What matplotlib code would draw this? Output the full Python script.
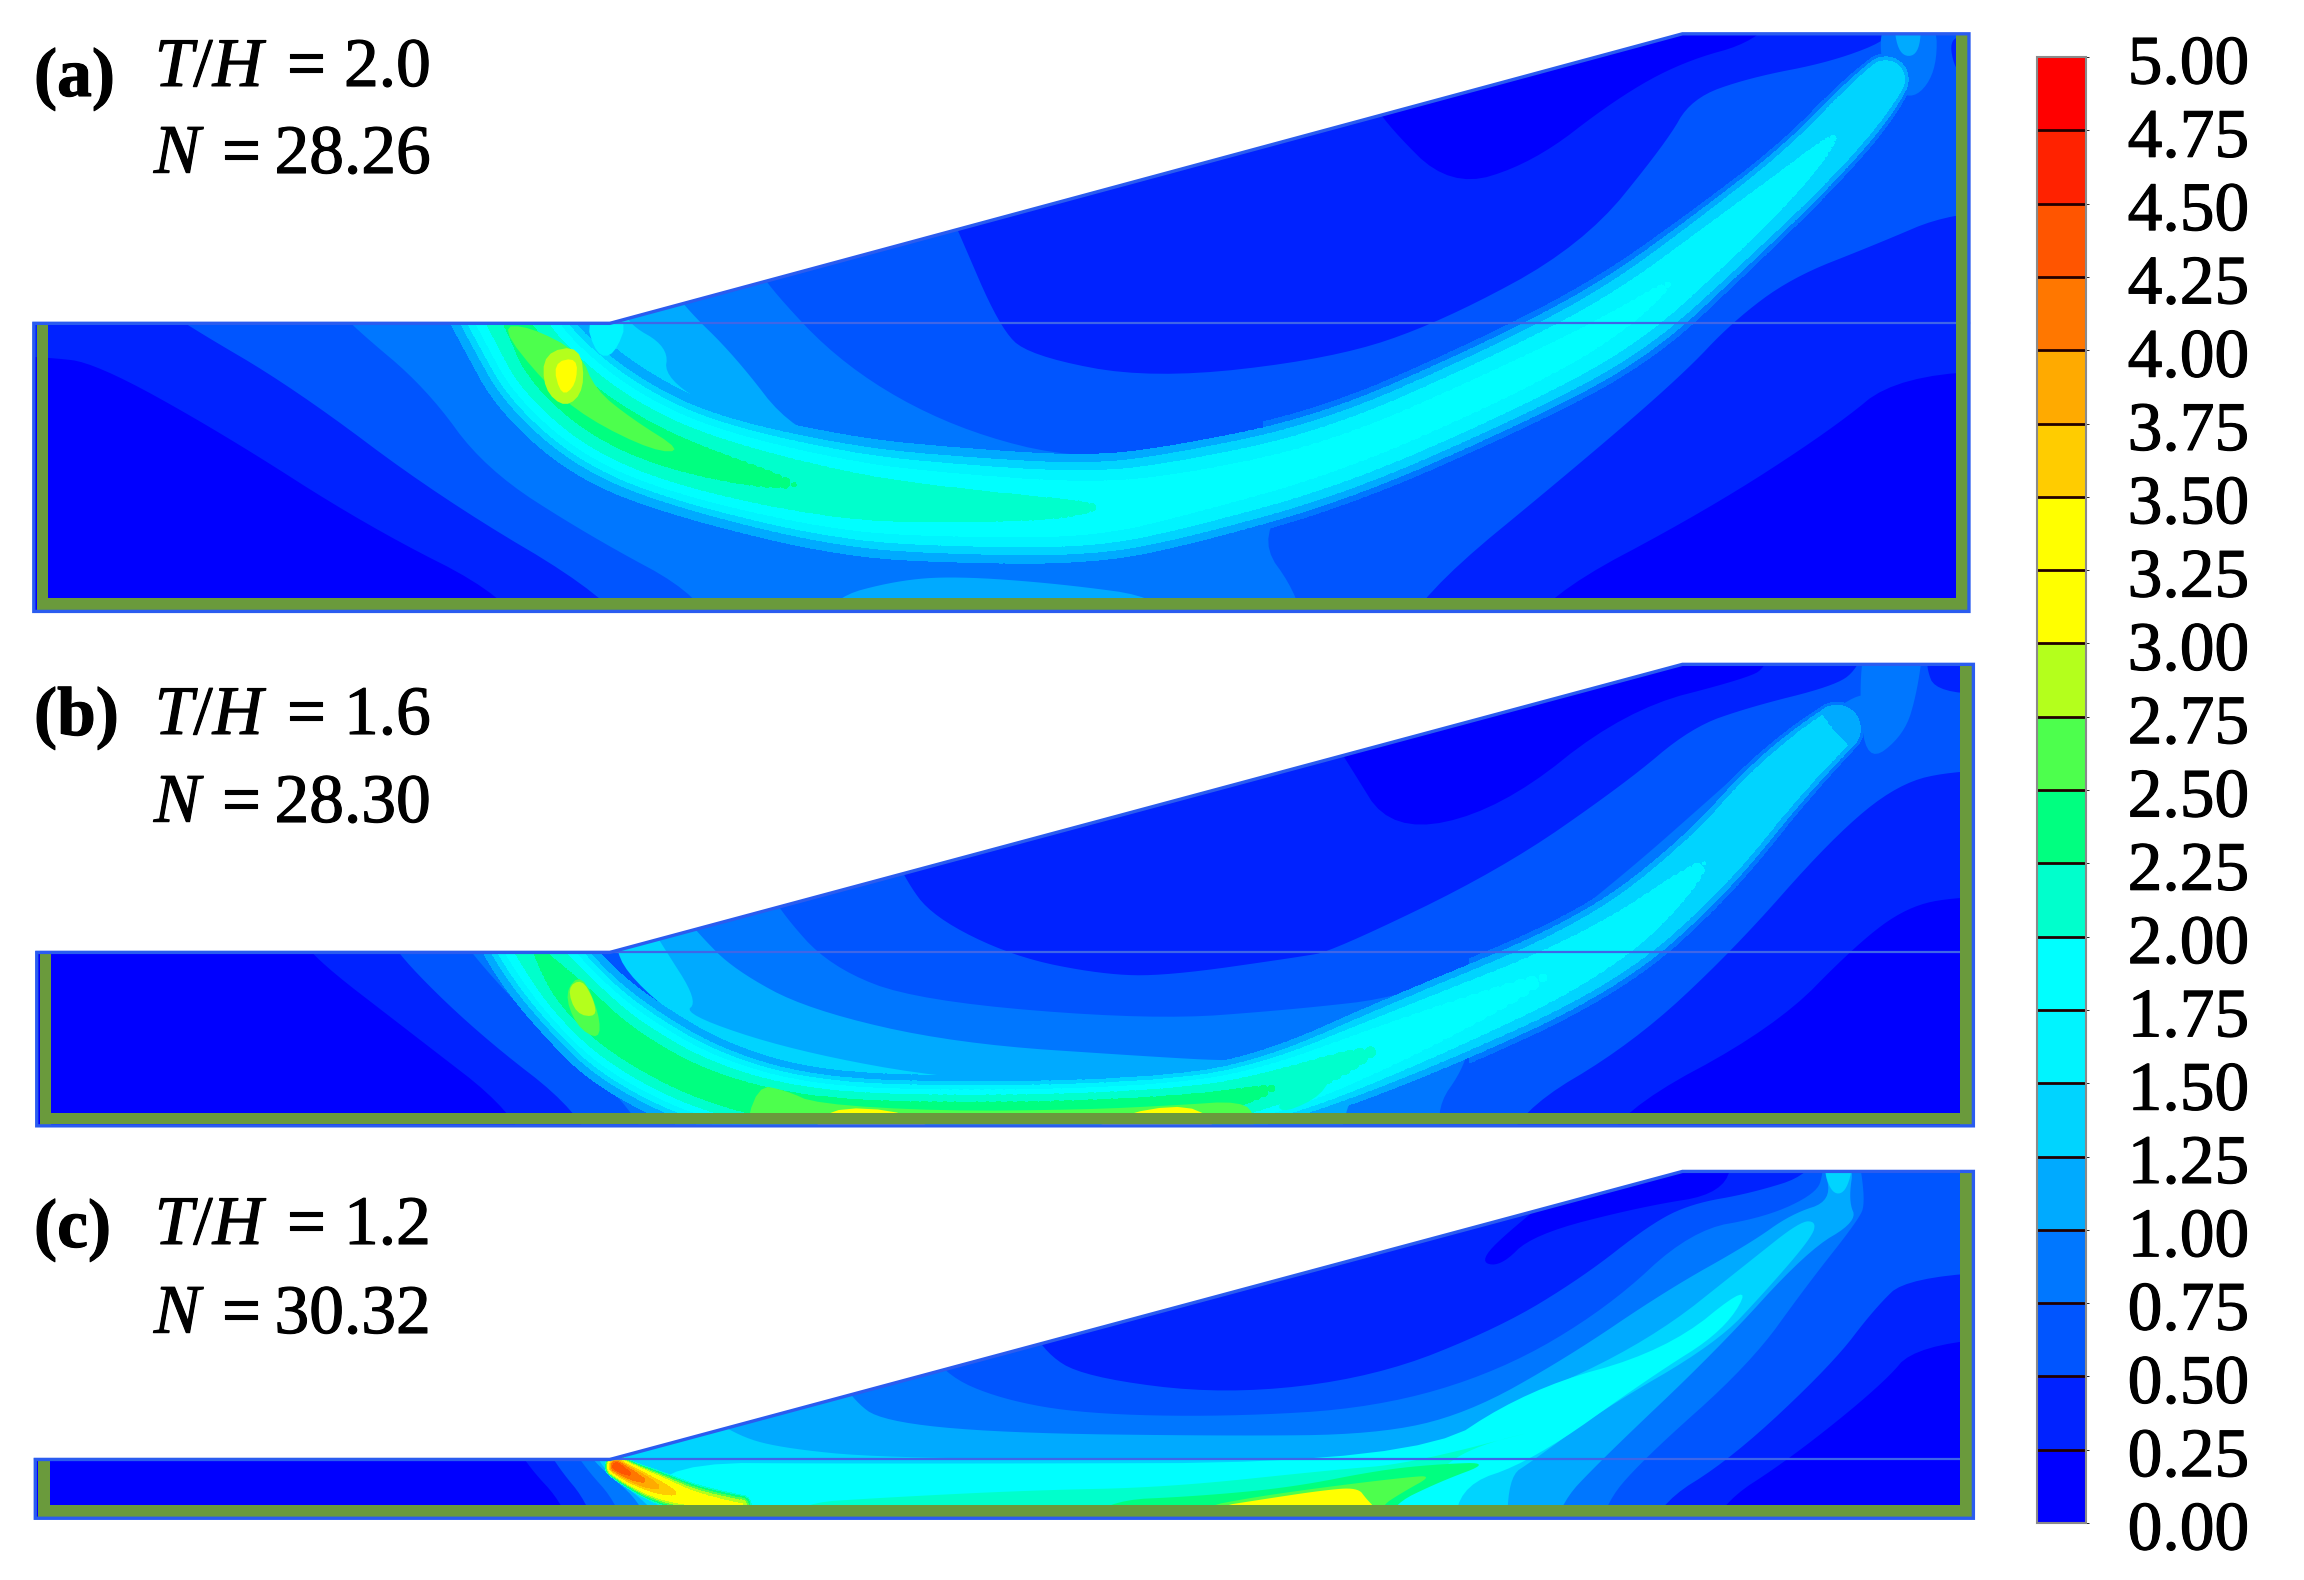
import numpy as np
import matplotlib
matplotlib.use('Agg')
import matplotlib.pyplot as plt
import matplotlib.patheffects as pe
from matplotlib.colors import ListedColormap, BoundaryNorm
from matplotlib.cm import ScalarMappable
from matplotlib.patches import Polygon, Rectangle

plt.rcParams['font.family'] = ['Liberation Serif', 'DejaVu Serif']
plt.rcParams['mathtext.fontset'] = 'custom'
plt.rcParams['mathtext.it'] = 'Liberation Serif:italic'
plt.rcParams['mathtext.rm'] = 'Liberation Serif'

# colour scale, low to high
levels = np.arange(0, 5.25, 0.25)
tick_labels = ['%.2f' % v for v in levels]
bin_colors = ['#0000ff', '#0022ff', '#0055ff', '#0077ff', '#00aaff', '#00d4ff', '#00f4ff', '#00ffff',
              '#00ffcc', '#00ff80', '#4dff4d', '#b4ff1c', '#ffff00', '#ffff00', '#ffcc00', '#ffaa00',
              '#ff7700', '#ff5500', '#ff2200', '#ff0000']

# panel text
panel_tags = ['(a)', '(b)', '(c)']
t_over_h = ['2.0', '1.6', '1.2']
factor_n = ['28.26', '28.30', '30.32']

# digitised outline, in pixels of the 1568x1075 picture: left, right, toe level, crest level, base
a_box = (23, 1340, 220, 23, 416)
b_box = (25, 1343, 648, 452, 766)
c_box = (24, 1343, 993, 797, 1033)
toe_px = 415
crest_px = 1145
slope_height_px = 197.0

# contour patches as (value, outline), painted in this order
a_base = 0.6
a_regions = [
    (0.4, [(-40, 205), (105, 205), (125, 220), (200, 264), (300, 339), (415, 407), (440, 450), (-40, 450)]),
    (0.1, [(-40, 240), (32, 243), (65, 247), (150, 294), (250, 358), (347, 407), (365, 450), (-40, 450)]),
    (0.9, [(225, 205), (240, 222), (290, 264), (330, 319), (400, 364), (480, 407), (490, 450), (890, 450), (885, 407),
           (854, 364), (900, 320), (800, 340), (650, 350), (520, 330), (430, 280), (390, 220)]),
    (1.1, [(565, 407), (610, 395), (650, 392), (720, 397), (794, 407), (800, 440), (555, 440)]),
    (0.4, [(1400, 144), (1329, 144), (1275, 167), (1219, 189), (1179, 219), (1145, 255), (1077, 314), (964, 407),
           (950, 450), (1400, 450)]),
    (0.1, [(1400, 251), (1292, 255), (1247, 292), (1162, 347), (1049, 407), (1030, 450), (1400, 450)]),
    (0.9, [(510, 170), (520, 192), (575, 250), (650, 292), (738, 314), (851, 303), (900, 300), (700, 340),
           (520, 320), (430, 260), (405, 170)]),
    (1.1, [(450, 185), (465, 208), (500, 242), (540, 294), (600, 311), (700, 340), (520, 320), (430, 260), (405, 190)]),
    (1.4, [(425, 200), (425, 219), (455, 236), (452, 258), (500, 286), (470, 300), (420, 260), (405, 200)]),
    (0.4, [(640, 130), (652, 157), (680, 222), (700, 242), (784, 258), (907, 244), (981, 219), (1077, 167), (1134, 97),
           (1151, 67), (1190, 53), (1247, 42), (1290, 25), (1300, 0), (640, 0)]),
    (0.1, [(930, 60), (941, 82), (987, 128), (1043, 111), (1100, 67), (1145, 42), (1196, 28), (1215, 0), (930, 0)]),
    (0.9, [(1280, 10), (1318, 10), (1318, 50), (1300, 70), (1280, 50)]),
    (1.1, [(1288, 10), (1308, 10), (1306, 38), (1292, 38)]),
    (0.4, [(1326, 25), (1345, 25), (1345, 55), (1331, 50)]),
]
a_spots = [
    (2.6, [(340, 222), (360, 222), (395, 240), (405, 265), (430, 285), (465, 307), (445, 307), (400, 285), (370, 260)]),
    (2.9, [(370, 240), (395, 235), (398, 265), (385, 278), (370, 265)]),
    (3.1, [(376, 247), (393, 243), (392, 262), (382, 270)]),
    (1.6, [(398, 216), (428, 216), (418, 242), (406, 242)]),
]
a_band_x = [335, 352, 372, 415, 475, 575, 650, 740, 800, 907, 1021, 1104, 1170, 1228, 1270, 1295]
a_band_y = [190, 222, 253, 289, 315, 338, 344, 347, 338, 312, 262, 219, 165, 115, 70, 40]
a_band_w = [30, 30, 32, 33, 30, 31, 30, 28, 26, 23, 23, 23, 19, 16, 15, 9]
a_band_peak = [2.3, 2.3, 2.42, 2.42, 2.35, 2.2, 2.1, 2.02, 1.9, 1.85, 1.85, 1.8, 1.7, 1.55, 1.45, 1.3]

b_base = 0.6
b_regions = [
    (0.4, [(-40, 630), (262, 630), (270, 649), (325, 703), (395, 757), (410, 800), (-40, 800)]),
    (0.1, [(-40, 630), (202, 630), (210, 649), (280, 703), (350, 757), (365, 800), (-40, 800)]),
    (0.9, [(310, 630), (320, 648), (360, 692), (435, 757), (445, 800), (990, 800), (975, 757), (998, 724), (1000, 700),
           (800, 745), (520, 730), (420, 690), (370, 630)]),
    (1.1, [(325, 630), (350, 676), (390, 726), (480, 757), (485, 800), (905, 800), (916, 757), (919, 749), (900, 730),
           (520, 735), (420, 690), (380, 630)]),
    (0.9, [(515, 590), (530, 619), (565, 658), (625, 681), (784, 694), (879, 687), (958, 678), (1049, 640), (1111, 590),
           (1162, 545), (1208, 504), (1247, 483), (1270, 470), (1281, 481), (1225, 540), (1130, 640), (1000, 690),
           (860, 740), (700, 755), (520, 730), (430, 660), (415, 640), (470, 590)]),
    (1.1, [(455, 610), (475, 635), (500, 660), (550, 687), (650, 710), (784, 719), (840, 722), (900, 720), (860, 740),
           (700, 755), (520, 730), (430, 660), (420, 625)]),
    (1.4, [(440, 625), (450, 642), (475, 681), (465, 690), (540, 715), (650, 735), (784, 740), (834, 731), (850, 745),
           (700, 755), (520, 735), (430, 670), (415, 635)]),
    (0.4, [(600, 560), (615, 597), (635, 624), (690, 651), (750, 663), (794, 664), (885, 651), (907, 647), (1021, 592),
           (1106, 533), (1151, 495), (1191, 481), (1247, 467), (1264, 456), (1275, 425), (600, 425)]),
    (0.1, [(905, 500), (916, 517), (947, 567), (1021, 551), (1106, 483), (1191, 461), (1202, 453), (1212, 425),
           (905, 425)]),
    (0.9, [(1270, 430), (1310, 430), (1305, 470), (1296, 500), (1270, 520), (1265, 470)]),
    (0.4, [(1315, 430), (1380, 430), (1380, 472), (1318, 472), (1310, 452)]),
    (0.4, [(1400, 524), (1332, 524), (1292, 533), (1247, 570), (1179, 647), (1111, 710), (1032, 757), (1020, 800),
           (1400, 800)]),
    (0.1, [(1400, 610), (1332, 610), (1298, 617), (1264, 642), (1208, 699), (1100, 757), (1085, 800), (1400, 800)]),
]
b_spots = [
    (2.6, [(505, 780), (515, 738), (535, 742), (555, 751), (640, 756), (738, 755), (800, 752), (845, 749), (855, 760),
           (850, 780)]),
    (2.1, [(868, 752), (890, 735), (907, 728), (900, 745), (875, 757)]),
    (3.1, [(552, 780), (560, 753), (620, 756), (645, 780)]),
    (3.1, [(720, 780), (770, 755), (820, 752), (830, 780)]),
    (2.6, [(384, 675), (396, 662), (408, 690), (408, 708), (392, 698)]),
    (2.9, [(386, 672), (396, 666), (404, 680), (406, 692), (392, 690)]),
]
b_band_x = [350, 368, 392, 425, 480, 550, 650, 780, 860, 960, 1087, 1160, 1215, 1281]
b_band_y = [620, 651, 680, 710, 740, 757, 760, 757, 745, 705, 650, 590, 525, 470]
b_band_w = [25, 25, 25, 27, 25, 22, 21, 21, 20, 23, 21, 18, 16, 9]
b_band_peak = [2.25, 2.25, 2.45, 2.4, 2.4, 2.45, 2.45, 2.45, 2.3, 1.9, 1.7, 1.5, 1.35, 1.15]

c_base = 0.1
c_regions = [
    (0.4, [(345, 970), (357, 995), (385, 1025), (395, 1065), (1160, 1065), (1168, 1025), (1219, 992), (1281, 942),
           (1304, 915), (1400, 907), (1400, 770), (345, 770)]),
    (0.6, [(365, 970), (377, 995), (402, 1025), (410, 1065), (1120, 1065), (1126, 1025), (1179, 992), (1247, 928),
           (1276, 890), (1298, 869), (1400, 863), (1400, 770), (1240, 770), (1233, 799), (1191, 812), (1151, 819),
           (1123, 833), (1077, 869), (1021, 903), (936, 937), (834, 949), (738, 937), (709, 919), (690, 880), (380, 880)]),
    (0.9, [(385, 975), (395, 995), (422, 1025), (430, 1065), (1085, 1065), (1091, 1025), (1117, 994), (1191, 928),
           (1230, 874), (1264, 831), (1270, 818), (1262, 770), (1241, 770), (1241, 798), (1236, 812), (1202, 828),
           (1151, 837), (1094, 890), (1021, 933), (936, 958), (834, 964), (738, 962), (681, 952), (642, 935), (620, 900),
           (400, 900)]),
    (1.1, [(395, 980), (405, 996), (440, 1025), (445, 1065), (1055, 1065), (1060, 1025), (1089, 994), (1168, 919),
           (1230, 851), (1264, 831), (1258, 817), (1262, 790), (1240, 790), (1247, 817), (1219, 826), (1191, 846),
           (1134, 878), (1066, 924), (998, 962), (936, 976), (834, 977), (681, 975), (600, 967), (580, 952), (560, 920),
           (420, 920)]),
    (1.4, [(405, 985), (410, 1000), (450, 1030), (455, 1060), (1026, 1060), (1026, 1005), (1043, 994), (1089, 960),
           (1168, 914), (1202, 878), (1233, 842), (1236, 831), (1225, 831), (1191, 858), (1123, 912), (1032, 955),
           (964, 992), (784, 993), (600, 992), (530, 985), (500, 976), (470, 955), (425, 975)]),
    (1.9, [(430, 995), (600, 996), (964, 995), (1040, 945), (1134, 919), (1193, 871), (1174, 905), (1123, 937), (1043, 994),
           (990, 1012), (992, 1060), (470, 1060)]),
    (2.1, [(530, 1050), (540, 1023), (600, 1019), (700, 1014), (794, 1012), (908, 1000), (958, 996), (1055, 971),
           (1000, 985), (975, 1004), (940, 1025), (935, 1050)]),
    (2.4, [(730, 1050), (750, 1021), (815, 1018), (879, 1012), (940, 1000), (981, 996), (1015, 995), (980, 1008), (945, 1025),
           (945, 1050)]),
    (2.6, [(805, 1050), (815, 1026), (851, 1019), (900, 1012), (958, 1005), (975, 1004), (955, 1015), (938, 1026),
           (938, 1050)]),
    (3.1, [(815, 1050), (822, 1026), (860, 1020), (900, 1014), (924, 1012), (930, 1020), (936, 1026), (936, 1050)]),
    (0.1, [(1006, 858), (1021, 862), (1043, 840), (1117, 821), (1174, 812), (1180, 780), (1100, 780), (1032, 833)]),
    (1.4, [(1240, 790), (1262, 790), (1256, 812), (1246, 812)]),
]
c_spots = []
c_band_x = [412, 428, 450, 475, 530]
c_band_y = [993, 1003, 1013, 1021, 1027]
c_band_w = [7, 9, 12, 11, 6]
c_band_peak = [4.7, 4.3, 3.7, 3.2, 2.9]

cmap = ListedColormap(bin_colors)
norm = BoundaryNorm(levels, cmap.N)
frame_blue = '#2a5cf0'
wall_green = '#6a9a3c'


def chaikin(pts, closed=True, n=3):
    # corner cutting so the digitised outlines come out as smooth contours
    pts = np.asarray(pts, dtype=float)
    for _ in range(n):
        nxt = np.roll(pts, -1, axis=0) if closed else pts[1:]
        cur = pts if closed else pts[:-1]
        q = 0.75 * cur + 0.25 * nxt
        r = 0.25 * cur + 0.75 * nxt
        new = np.empty((2 * len(cur), pts.shape[1]))
        new[0::2] = q
        new[1::2] = r
        pts = new
    return pts


def band_field(X, Y, cx, cy, cw, cpeak):
    line = chaikin(np.column_stack([cx, cy, cw, cpeak]), closed=False, n=4)
    best = np.full(X.shape, np.inf)
    peak = np.zeros(X.shape)
    for x0, y0, w0, p0 in line:
        t = np.hypot(X - x0, Y - y0) / w0
        hit = t < best
        best[hit] = t[hit]
        peak[hit] = p0
    u = np.clip(best / 1.1, 0, 1)
    v = 1.25 + (peak - 1.25) * (1 - u ** 2)
    outer = best >= 1.1
    v[outer] = np.interp(best[outer], [1.1, 1.3, 1.5, 9], [1.25, 1.0, 0.7, 0.0])
    return np.minimum(v, peak)


def label(x, y, s, **kw):
    t = fig.text(x / 2304, 1 - y / 1580, s, fontsize=50, va='baseline', **kw)
    t.set_path_effects([pe.withStroke(linewidth=0.8, foreground='black')])
    return t


fig = plt.figure(figsize=(23.04, 15.8), dpi=100)
W, H = 1568.0, 1075.0

panels = [
    (a_box, a_base, a_regions, a_spots, a_band_x, a_band_y, a_band_w, a_band_peak, 1.0, 860),
    (b_box, b_base, b_regions, b_spots, b_band_x, b_band_y, b_band_w, b_band_peak, 1.0, 1000),
    (c_box, c_base, c_regions, c_spots, c_band_x, c_band_y, c_band_w, c_band_peak, 2.0, None),
]

for box, base_value, regions, spots, bx, by, bw, bp, floor, sheath_from in panels:
    left, right, mid, top, base = box
    ax = fig.add_axes([(left - 3) / W, 1 - (base + 3) / H, (right - left + 6) / W, (base - top + 6) / H])
    # model coordinates: x and y in units of the slope height, origin at the toe
    to_x = lambda px: (np.asarray(px, dtype=float) - toe_px) / slope_height_px
    to_y = lambda py: (mid - np.asarray(py, dtype=float)) / slope_height_px
    ax.set_xlim(to_x(left - 3), to_x(right + 3))
    ax.set_ylim(to_y(base + 3), to_y(top - 3))
    ax.axis('off')

    outline = np.array([[left, mid], [toe_px, mid], [crest_px, top], [right, top],
                        [right, base], [left, base]], dtype=float)
    outline_xy = np.column_stack([to_x(outline[:, 0]), to_y(outline[:, 1])])
    clip = Polygon(outline_xy, closed=True, transform=ax.transData, facecolor=cmap(norm(base_value)), edgecolor='none', zorder=1)
    ax.add_patch(clip)

    for value, pts in regions:
        p = chaikin(pts)
        patch = ax.fill(to_x(p[:, 0]), to_y(p[:, 1]), color=cmap(norm(value)), lw=0, zorder=2)[0]
        patch.set_clip_path(clip)

    gx = np.arange(left, right + 1, 1.0)
    gy = np.arange(top, base + 1, 1.0)
    PX, PY = np.meshgrid(gx, gy)
    V = band_field(PX, PY, bx, by, bw, bp)
    XX, YY = to_x(PX), to_y(PY)
    if sheath_from is not None:
        cs0 = ax.contourf(XX, YY, np.ma.masked_where(PX < sheath_from, V), levels=[0.75, 1.0], colors=[cmap(norm(0.9))], zorder=3)
        cs0.set_clip_path(clip)
    cs = ax.contourf(XX, YY, V, levels=levels[levels >= floor], cmap=cmap, norm=norm, zorder=4)
    cs.set_clip_path(clip)

    for value, pts in spots:
        p = chaikin(pts, n=2)
        patch = ax.fill(to_x(p[:, 0]), to_y(p[:, 1]), color=cmap(norm(value)), lw=0, zorder=5)[0]
        patch.set_clip_path(clip)

    # horizontal layer line at toe level
    ax.plot(to_x([left, right]), to_y([mid, mid]), color='#3f66e8', lw=1.6, zorder=6)

    # retaining walls and base beam
    for x0, x1, y0, y1 in [(left + 2, left + 10, mid, base), (right - 9, right - 1, top, base),
                           (left + 2, right - 1, base - 9, base - 1)]:
        ax.add_patch(Rectangle((to_x(x0), to_y(y1)), to_x(x1) - to_x(x0), to_y(y0) - to_y(y1),
                               facecolor=wall_green, edgecolor='none', zorder=7))

    ax.add_patch(Polygon(outline_xy, closed=True, facecolor='none', edgecolor=frame_blue, lw=2.4, zorder=8, clip_on=False))

# colour bar
cax = fig.add_axes([2037 / 2304, 1 - 1523 / 1580, 49 / 2304, (1523 - 57) / 1580])
cb = fig.colorbar(ScalarMappable(norm=norm, cmap=cmap), cax=cax, drawedges=True, spacing='proportional')
cb.dividers.set_color('#220000')
cb.dividers.set_linewidth(2.0)
cb.outline.set_edgecolor('#8a8a8a')
cb.outline.set_linewidth(1.5)
cb.set_ticks([])
for v, lab in zip(levels, tick_labels):
    t = cax.annotate(lab, xy=(1, v), xycoords=cax.get_yaxis_transform(), xytext=(30, -7), textcoords='offset points',
                     fontsize=50, ha='left', va='center')
    t.set_path_effects([pe.withStroke(linewidth=0.8, foreground='black')])

# panel text, positions in full picture pixels
text_rows = [(96, 86, 173), (735, 734, 822), (1247, 1244, 1333)]
for tag, th, n, (y_tag, y_th, y_n) in zip(panel_tags, t_over_h, factor_n, text_rows):
    label(34, y_tag, tag, fontweight='bold', ha='left')
    label(268, y_th, '$T/H$', ha='right')
    label(306, y_th, '=', ha='center')
    label(431, y_th, th, ha='right')
    label(206, y_n, '$N$', ha='right')
    label(241, y_n, '=', ha='center')
    label(431, y_n, n, ha='right')

fig.savefig('out.png', dpi=100)
